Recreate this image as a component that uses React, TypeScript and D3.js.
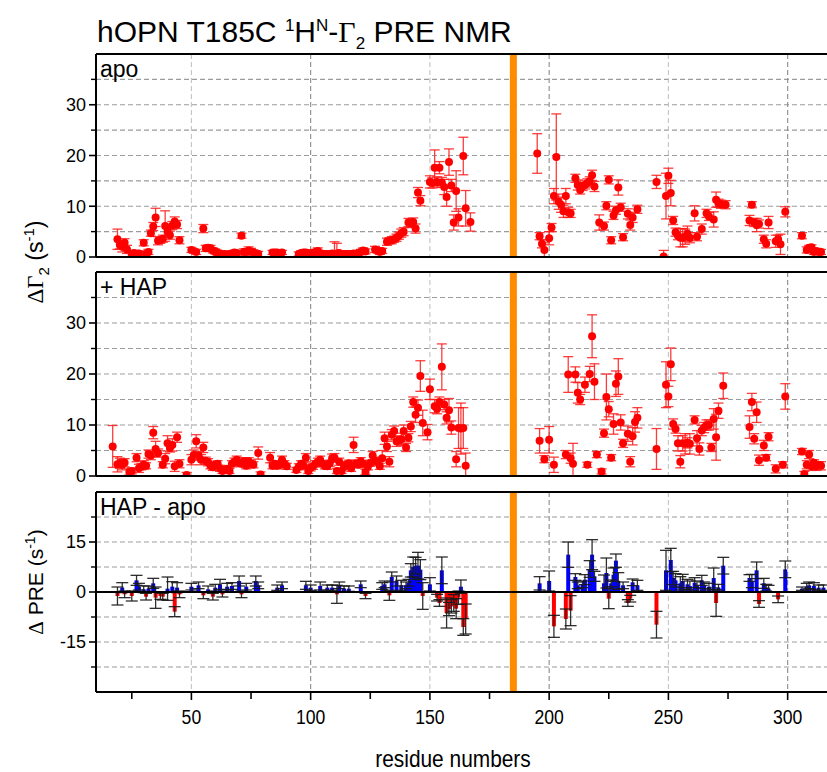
import React from 'react';
import * as d3 from 'd3';

// [residue, ΔΓ2 (s^-1), error]
const apoData: [number, number, number][] = [
  [19, 3.5, 2.0], [20, 2.4, 0.8], [21, 2.0, 1.0], [22, 2.8, 0.8], [23, 1.5, 0.8], [25, 0.6, 0.5], [26, 0.8, 0.5],
  [27, 0.6, 0.5], [28, 0.7, 0.5], [30, 2.8, 0.6], [31, 0.6, 0.5], [32, 1.0, 0.5], [33, 4.7, 0.6], [34, 6.0, 0.8],
  [35, 7.8, 1.8], [36, 3.2, 0.8], [37, 3.3, 0.6], [38, 3.6, 0.7], [39, 6.1, 3.0], [40, 5.0, 1.0], [41, 4.3, 0.8],
  [42, 6.2, 0.8], [43, 7.0, 0.9], [44, 6.4, 0.8], [45, 3.3, 0.7], [50, 1.4, 0.5], [52, 1.0, 0.5], [55, 5.6, 0.8],
  [56, 1.7, 0.6], [57, 1.8, 0.5], [58, 1.7, 0.6], [59, 1.3, 0.5], [60, 1.1, 0.5], [61, 0.8, 0.5], [62, 0.7, 0.4],
  [63, 0.5, 0.4], [64, 0.6, 0.4], [65, 0.5, 0.4], [66, 0.6, 0.4], [67, 0.7, 0.4], [68, 0.9, 0.4], [69, 0.8, 0.4],
  [71, 4.2, 0.5], [72, 1.0, 0.6], [73, 1.0, 0.6], [74, 1.3, 0.7], [75, 1.1, 0.6], [76, 0.9, 0.5], [77, 0.7, 0.5],
  [78, 0.6, 0.5], [84, 0.9, 0.4], [85, 0.9, 0.4], [86, 0.9, 0.4], [87, 0.8, 0.4], [88, 0.9, 0.4], [95, 0.6, 0.4],
  [96, 0.8, 0.4], [97, 0.9, 0.4], [98, 0.9, 0.4], [99, 0.8, 0.4], [100, 0.7, 0.4], [101, 0.8, 0.4], [102, 1.0, 0.5],
  [103, 1.2, 0.6], [104, 0.8, 0.4], [105, 0.6, 0.4], [106, 0.6, 0.4], [107, 0.6, 0.4], [108, 0.6, 0.4], [109, 0.7, 0.4],
  [110, 0.6, 2.4], [111, 0.7, 2.0], [112, 0.8, 0.4], [113, 0.6, 0.4], [114, 0.6, 0.4], [115, 0.6, 0.4], [116, 0.6, 0.4],
  [117, 0.6, 0.4], [118, 0.7, 0.4], [119, 0.6, 0.4], [120, 0.8, 0.4], [121, 1.0, 0.5], [122, 1.3, 0.5], [123, 1.1, 0.5],
  [127, 1.5, 0.6], [128, 1.3, 0.5], [129, 1.0, 0.5], [130, 1.2, 0.5], [132, 3.0, 0.7], [133, 3.2, 0.6], [134, 3.3, 0.7],
  [135, 3.5, 0.6], [136, 3.8, 0.7], [137, 4.2, 0.7], [138, 4.7, 0.8], [139, 5.0, 0.8], [141, 6.8, 0.8], [142, 6.6, 0.8],
  [143, 6.9, 0.8], [144, 5.6, 0.9], [145, 12.7, 1.0], [146, 11.1, 1.0], [150, 14.8, 1.2], [151, 14.6, 1.0],
  [152, 17.6, 3.5], [153, 14.8, 1.0], [154, 17.6, 1.2], [155, 14.7, 1.0], [156, 13.8, 1.5], [157, 11.8, 1.8],
  [158, 18.7, 2.6], [159, 14.1, 1.2], [160, 6.8, 1.5], [161, 13.0, 4.0], [162, 7.8, 1.7], [164, 19.9, 3.7],
  [165, 9.6, 3.5], [167, 6.9, 1.8],
  [195, 20.4, 3.9], [196, 4.1, 0.7], [197, 2.6, 0.8], [198, 1.4, 1.4], [200, 3.7, 1.3], [201, 5.8, 0.8],
  [202, 12.0, 1.5], [203, 19.7, 8.5], [204, 10.9, 1.5], [205, 10.3, 1.5], [206, 9.0, 1.2], [207, 12.0, 1.5],
  [208, 8.8, 1.0], [209, 8.6, 0.8], [211, 15.5, 0.8], [212, 14.2, 1.0], [213, 13.2, 0.8], [214, 13.9, 0.8],
  [215, 14.2, 0.8], [216, 14.6, 0.8], [217, 15.0, 0.8], [218, 16.1, 1.0], [219, 13.9, 1.0], [221, 6.8, 1.5],
  [223, 6.1, 0.8], [224, 10.1, 0.8], [225, 15.2, 0.8], [226, 3.3, 0.7], [227, 8.2, 0.8], [228, 9.2, 0.8],
  [229, 13.7, 1.5], [230, 9.8, 0.8], [231, 3.9, 0.7], [233, 8.5, 1.0], [234, 6.3, 1.0], [235, 7.8, 1.0],
  [237, 9.4, 0.8], [245, 14.8, 1.3], [248, 0.1, 1.2], [249, 12.0, 4.5], [250, 16.0, 1.5], [251, 12.6, 2.5],
  [252, 7.2, 0.8], [253, 4.9, 0.8], [254, 4.2, 0.8], [255, 3.8, 1.8], [256, 3.8, 1.8], [257, 4.0, 1.5],
  [258, 4.6, 1.5], [259, 3.8, 1.0], [261, 8.6, 1.5], [262, 4.0, 0.8], [264, 5.5, 1.0], [266, 8.6, 0.8],
  [267, 8.0, 0.8], [269, 7.4, 1.5], [270, 11.3, 1.5], [271, 10.6, 0.8], [272, 10.4, 0.8], [274, 10.3, 0.8],
  [284, 7.2, 1.0], [285, 10.3, 0.6], [286, 6.8, 0.8], [287, 6.3, 1.3], [288, 6.5, 0.8], [290, 3.5, 0.8],
  [291, 2.6, 0.8], [292, 6.8, 1.2], [295, 3.1, 1.2], [296, 3.5, 0.8], [297, 2.5, 2.0], [299, 8.9, 1.0],
  [306, 4.2, 0.6], [308, 1.4, 0.6], [309, 1.8, 0.5], [310, 1.9, 0.5], [311, 1.0, 0.5], [312, 1.2, 0.5],
  [313, 1.0, 0.5], [314, 1.0, 0.5],
];

const hapData: [number, number, number][] = [
  [17, 5.8, 4.1], [19, 2.3, 1.5], [20, 2.5, 1.0], [21, 2.2, 1.0], [22, 2.6, 0.8], [24, 0.8, 0.6], [25, 1.0, 0.6],
  [27, 3.6, 0.8], [28, 1.5, 0.8], [29, 1.8, 0.6], [30, 2.2, 0.8], [31, 2.0, 0.6], [32, 4.3, 0.8], [33, 4.0, 0.8],
  [34, 8.5, 1.2], [35, 5.3, 1.5], [36, 4.5, 0.8], [38, 2.2, 0.6], [39, 3.4, 1.0], [40, 6.4, 1.5], [41, 5.5, 0.8],
  [42, 6.1, 1.2], [43, 1.9, 1.0], [44, 7.6, 1.0], [45, 2.4, 0.8], [48, 0.2, 0.5], [50, 3.2, 1.0], [51, 4.1, 1.0],
  [52, 6.8, 1.3], [53, 4.0, 0.8], [54, 3.2, 1.0], [55, 5.6, 1.0], [56, 3.0, 0.7], [57, 2.7, 0.7], [58, 2.0, 0.6],
  [59, 1.7, 0.6], [60, 2.2, 0.6], [61, 2.4, 0.6], [62, 1.5, 0.6], [63, 1.0, 0.5], [64, 1.2, 0.5], [65, 1.4, 0.5],
  [66, 1.0, 0.5], [67, 2.4, 0.6], [68, 2.8, 0.7], [69, 3.2, 0.7], [70, 2.6, 0.6], [71, 2.4, 0.6], [72, 2.9, 0.7],
  [73, 2.0, 0.6], [74, 2.9, 0.7], [75, 2.5, 0.6], [76, 2.2, 0.6], [78, 4.5, 1.2], [79, 0.3, 0.5], [83, 3.6, 1.0],
  [84, 2.0, 0.6], [85, 2.4, 0.6], [86, 2.0, 0.6], [87, 2.2, 0.6], [88, 3.2, 0.7], [89, 2.4, 0.6], [90, 1.9, 0.6],
  [94, 1.2, 0.5], [95, 1.8, 0.6], [96, 2.4, 0.6], [97, 2.0, 0.6], [98, 3.6, 0.8], [99, 1.0, 0.5], [100, 1.6, 0.6],
  [101, 1.9, 0.6], [102, 2.4, 0.6], [103, 2.8, 0.7], [104, 3.2, 0.7], [105, 2.4, 0.6], [106, 2.0, 0.6],
  [107, 1.9, 0.6], [108, 2.5, 0.6], [109, 3.5, 0.8], [110, 3.6, 0.8], [111, 1.0, 0.5], [112, 2.8, 0.7],
  [113, 1.0, 0.5], [114, 1.8, 0.6], [115, 2.2, 0.6], [116, 2.5, 0.6], [117, 1.5, 0.6], [118, 6.1, 1.5],
  [119, 2.5, 0.6], [120, 2.2, 0.6], [121, 2.9, 0.7], [122, 2.4, 0.6], [123, 0.8, 0.5], [124, 1.8, 0.6],
  [125, 2.5, 0.6], [126, 4.0, 0.8], [127, 3.0, 0.7], [128, 2.8, 0.7], [129, 1.9, 0.6], [130, 3.5, 1.5],
  [131, 7.4, 1.2], [132, 5.8, 1.0], [133, 2.8, 1.0], [134, 8.1, 1.0], [135, 8.8, 1.0], [136, 6.8, 1.0],
  [137, 7.0, 0.8], [138, 7.2, 1.2], [139, 8.8, 1.2], [140, 5.6, 0.8], [141, 7.5, 0.8], [142, 9.7, 1.0],
  [143, 14.5, 1.0], [144, 12.0, 1.5], [145, 13.4, 1.5], [146, 19.6, 3.0], [147, 10.4, 2.5], [149, 8.6, 1.5],
  [150, 17.0, 2.0], [152, 13.7, 1.3], [153, 13.2, 1.0], [154, 14.5, 1.0], [155, 21.4, 4.5], [156, 14.0, 1.0],
  [157, 11.4, 1.2], [158, 12.9, 2.3], [159, 9.5, 1.3], [161, 3.3, 1.5], [162, 9.4, 4.0], [163, 9.3, 5.0],
  [164, 9.4, 4.0], [165, 2.0, 2.5],
  [196, 6.9, 2.4], [198, 3.3, 0.7], [200, 7.1, 2.6], [202, 2.2, 1.5], [207, 4.2, 0.8], [208, 19.9, 3.5],
  [209, 3.5, 1.0], [210, 2.4, 4.0], [211, 19.9, 1.5], [212, 16.3, 2.0], [213, 15.0, 1.0], [215, 17.9, 1.5],
  [216, 2.2, 0.5], [217, 20.0, 1.5], [218, 27.4, 4.2], [219, 18.5, 3.5], [220, 4.2, 0.6], [222, 0.9, 0.5],
  [223, 8.4, 0.8], [224, 15.5, 4.5], [225, 13.1, 1.5], [226, 3.6, 0.6], [227, 10.2, 2.0], [228, 18.1, 2.5],
  [229, 19.5, 3.5], [230, 10.5, 1.5], [231, 6.4, 0.8], [233, 8.3, 1.5], [234, 2.8, 1.0], [235, 7.8, 1.7],
  [236, 10.6, 2.0], [237, 11.4, 2.0], [245, 5.3, 4.0], [249, 17.9, 4.5], [250, 15.6, 2.0], [251, 21.9, 3.2],
  [252, 10.2, 1.0], [253, 9.2, 0.8], [254, 6.4, 1.5], [255, 2.8, 1.2], [256, 6.4, 1.5], [257, 6.3, 2.0],
  [258, 6.5, 1.0], [259, 6.3, 2.0], [261, 11.0, 0.8], [262, 7.4, 1.5], [263, 5.3, 1.2], [264, 8.9, 1.0],
  [265, 9.5, 1.0], [266, 10.0, 1.0], [267, 10.0, 1.0], [268, 5.6, 0.8], [269, 11.2, 2.0], [270, 7.6, 4.5],
  [271, 12.8, 1.5], [273, 17.7, 2.5], [284, 9.6, 2.2], [285, 14.5, 1.7], [286, 7.3, 1.0], [287, 12.5, 2.0],
  [288, 3.1, 1.0], [290, 6.0, 1.0], [291, 3.6, 0.6], [292, 7.7, 0.8], [295, 1.4, 0.8], [298, 2.2, 0.6],
  [299, 15.6, 2.5], [306, 4.8, 0.6], [307, 0.4, 0.5], [308, 2.2, 0.8], [309, 4.2, 0.8], [310, 1.9, 0.8],
  [311, 2.6, 0.6], [312, 1.9, 0.8], [313, 2.2, 0.6], [314, 2.0, 0.8],
];

// [residue, ΔPRE (s^-1), error]
const diffData: [number, number, number][] = [
  [19, -1.2, 2.7], [21, 1.3, 1.5], [22, -0.7, 1.0], [25, -1.2, 1.5], [27, 3.5, 1.5], [28, 1.6, 1.0], [30, 0.8, 1.0],
  [31, -1.4, 1.0], [32, 1.0, 0.8], [34, 2.6, 1.5], [35, -1.7, 3.2], [37, -1.2, 1.0], [38, -1.4, 1.0], [40, 1.0, 3.5],
  [42, 1.6, 1.5], [43, -5.9, 1.5], [44, 1.3, 1.5], [45, -0.7, 1.0], [50, 1.6, 1.0], [53, 2.0, 1.0], [55, -1.0, 1.0],
  [57, 0.8, 1.0], [59, -1.4, 1.0], [60, 1.3, 1.0], [62, 2.3, 1.5], [63, -0.7, 0.8], [65, 1.6, 1.0], [67, 1.8, 1.0],
  [70, 3.3, 1.5], [71, -0.7, 1.0], [73, 1.6, 1.0], [77, 3.3, 1.5], [78, 2.0, 1.0], [86, 1.3, 0.8], [88, 2.0, 1.0],
  [98, 2.0, 1.2], [100, 1.3, 0.8], [104, 1.8, 1.2], [107, 1.3, 0.8], [109, 1.3, 0.8], [111, -0.7, 2.7],
  [112, 2.0, 1.0], [114, 1.0, 0.8], [116, 1.0, 0.8], [121, 2.3, 1.0], [123, -1.2, 0.8], [130, 1.8, 1.0],
  [131, 2.3, 1.0], [133, -1.0, 1.5], [134, 4.5, 1.5], [136, 3.3, 1.5], [138, 2.0, 1.5], [140, 2.0, 1.0],
  [141, 2.8, 1.0], [142, 6.5, 2.0], [143, 7.5, 3.0], [144, 7.9, 2.5], [145, 7.9, 4.0], [146, 6.7, 3.0],
  [147, -1.2, 4.0], [150, 2.3, 2.0], [153, -1.7, 1.0], [154, -3.3, 1.0], [155, 6.5, 4.0], [157, -6.3, 4.5],
  [158, -5.1, 2.0], [159, -4.3, 2.0], [160, -3.3, 2.5], [161, -5.0, 3.0], [162, -1.7, 2.0], [163, 1.6, 2.0],
  [164, -10.5, 2.5], [165, -8.1, 4.5],
  [196, 2.6, 2.0], [200, 3.3, 3.0], [202, -10.3, 3.3], [207, -8.1, 3.0], [208, 11.2, 3.8], [209, -5.6, 4.5],
  [211, 4.5, 1.0], [212, 2.0, 1.0], [214, 2.3, 1.0], [215, 3.7, 1.5], [217, 6.9, 2.5], [218, 11.2, 4.5],
  [219, 4.7, 1.5], [223, 2.6, 2.5], [224, 5.7, 4.5], [225, -2.0, 3.0], [226, 2.6, 1.0], [227, 5.2, 2.0],
  [228, 9.4, 2.0], [229, 3.3, 2.5], [231, 2.0, 1.0], [233, -3.3, 1.0], [234, -2.0, 1.0], [235, 2.9, 1.0],
  [237, 2.0, 1.5], [245, -9.8, 4.0], [249, 6.5, 6.0], [251, 9.6, 3.5], [252, 4.2, 2.0], [253, 3.5, 2.0],
  [255, 2.6, 2.0], [256, 3.3, 2.0], [258, 2.3, 1.5], [259, 1.8, 1.5], [261, 2.8, 1.5], [262, 1.8, 1.5],
  [264, 3.5, 1.5], [265, 2.0, 1.0], [267, 1.6, 1.0], [269, 4.2, 3.0], [270, -3.3, 4.0], [271, 1.3, 1.0],
  [273, 7.9, 2.5], [284, 4.2, 1.0], [285, 3.3, 2.0], [287, 6.5, 2.5], [288, -3.6, 1.0], [290, 2.6, 1.5],
  [291, 1.3, 1.0], [292, 1.0, 1.0], [296, -2.2, 1.0], [299, 6.8, 2.5], [306, 1.0, 0.5], [308, 1.6, 1.0],
  [309, 2.0, 1.0], [311, 1.8, 1.0], [313, 1.3, 0.8], [315, 1.3, 0.8],
];

const xMinorTicks = [25, 75, 125, 175, 225, 275];
const xMajorTicks = [50, 100, 150, 200, 250, 300];
const gammaMajor = [0, 10, 20, 30];
const gammaMinor = [5, 15, 25, 35];
const preMajor = [-15, 0, 15];
const preMinor = [-22.5, -7.5, 7.5, 22.5];
const spinLabelResidue = 185;

const SANS = "'Liberation Sans', Arial, sans-serif";
const SERIF = "'Liberation Serif', 'Times New Roman', serif";

const X0 = 96;
const X1 = 827;
const x = d3.scaleLinear().domain([10, 316.5]).range([X0, X1]);

type Panel = {
  top: number;
  bottom: number;
  domain: [number, number];
  major: number[];
  minor: number[];
  label: string;
};

const panels: Panel[] = [
  { top: 54, bottom: 257, domain: [0, 40], major: gammaMajor, minor: gammaMinor, label: 'apo' },
  { top: 272, bottom: 476, domain: [0, 40], major: gammaMajor, minor: gammaMinor, label: '+ HAP' },
  { top: 492, bottom: 692, domain: [-30, 30], major: preMajor, minor: preMinor, label: 'HAP - apo' },
];

const GRID = '#9b9b9b';

function PanelFrame({ p, idx, children }: { p: Panel; idx: number; children?: React.ReactNode }) {
  const y = d3.scaleLinear().domain(p.domain).range([p.bottom, p.top]);
  const gridVals = [...p.major, ...p.minor].filter((v) => v > p.domain[0] && v < p.domain[1] && v !== 0);
  return (
    <g>
      <defs>
        <clipPath id={`clip${idx}`}>
          <rect x={X0} y={p.top} width={X1 - X0 + 2} height={p.bottom - p.top} />
        </clipPath>
      </defs>
      {gridVals.map((v) => (
        <line key={'h' + v} x1={X0} x2={X1 + 2} y1={y(v)} y2={y(v)} stroke={GRID} strokeWidth={1.1} strokeDasharray="5,3" />
      ))}
      {xMajorTicks.map((t) => (
        <line key={'v' + t} x1={x(t)} x2={x(t)} y1={p.top} y2={p.bottom} stroke={t % 100 === 0 ? '#8a8a8a' : '#c4c4c4'} strokeWidth={1.1} strokeDasharray="5,3" />
      ))}
      <line x1={x(spinLabelResidue)} x2={x(spinLabelResidue)} y1={p.top} y2={p.bottom} stroke="#FF8C00" strokeWidth={7} />
      <g clipPath={`url(#clip${idx})`}>{children}</g>
      <line x1={X0} x2={X1 + 5} y1={p.top} y2={p.top} stroke="#000" strokeWidth={2.2} />
      <line x1={X0} x2={X1 + 5} y1={p.bottom} y2={p.bottom} stroke="#000" strokeWidth={2.2} />
      <line x1={X0} x2={X0} y1={p.top} y2={p.bottom} stroke="#000" strokeWidth={2} />
      {p.major.map((v) => (
        <g key={'m' + v}>
          <line x1={X0 - 7} x2={X0} y1={y(v)} y2={y(v)} stroke="#000" strokeWidth={1.6} />
          <text x={X0 - 10} y={y(v)} dy="0.36em" textAnchor="end" fontFamily={SANS} fontSize={18} fill="#000">
            {v < 0 ? '-' + Math.abs(v) : v}
          </text>
        </g>
      ))}
      {p.minor.map((v) => (
        <line key={'n' + v} x1={X0 - 5} x2={X0} y1={y(v)} y2={y(v)} stroke="#000" strokeWidth={1.4} />
      ))}
      <text x={100} y={p.top + 23} fontFamily={SANS} fontSize={23} fill="#000">
        {p.label}
      </text>
    </g>
  );
}

function ScatterPanel({ p, idx, data }: { p: Panel; idx: number; data: [number, number, number][] }) {
  const y = d3.scaleLinear().domain(p.domain).range([p.bottom, p.top]);
  const cap = 5;
  return (
    <PanelFrame p={p} idx={idx}>
      <g stroke="#ff1a1a" strokeWidth={1.3} strokeOpacity={0.85}>
        {data.map(([r, v, e], i) => (
          <g key={i}>
            <line x1={x(r)} x2={x(r)} y1={y(v - e)} y2={y(v + e)} />
            <line x1={x(r) - cap} x2={x(r) + cap} y1={y(v + e)} y2={y(v + e)} />
            <line x1={x(r) - cap} x2={x(r) + cap} y1={y(v - e)} y2={y(v - e)} />
          </g>
        ))}
      </g>
      {data.map(([r, v], i) => (
        <circle key={'c' + i} cx={x(r)} cy={y(v)} r={4} fill="#ff0000" />
      ))}
    </PanelFrame>
  );
}

function BarPanel({ p, idx, data }: { p: Panel; idx: number; data: [number, number, number][] }) {
  const y = d3.scaleLinear().domain(p.domain).range([p.bottom, p.top]);
  const cap = 6;
  const bw = 4;
  return (
    <PanelFrame p={p} idx={idx}>
      {data.map(([r, v], i) => (
        <rect key={'b' + i} x={x(r) - bw / 2} width={bw} y={Math.min(y(v), y(0))} height={Math.abs(y(v) - y(0))} fill={v >= 0 ? '#0000ff' : '#ff0000'} />
      ))}
      <g stroke="#1a1a1a" strokeWidth={1.3} strokeOpacity={0.9}>
        {data.map(([r, v, e], i) => (
          <g key={i}>
            <line x1={x(r)} x2={x(r)} y1={y(v - e)} y2={y(v + e)} />
            <line x1={x(r) - cap} x2={x(r) + cap} y1={y(v + e)} y2={y(v + e)} />
            <line x1={x(r) - cap} x2={x(r) + cap} y1={y(v - e)} y2={y(v - e)} />
          </g>
        ))}
      </g>
      <line x1={X0} x2={X1 + 5} y1={y(0)} y2={y(0)} stroke="#000" strokeWidth={2.2} />
    </PanelFrame>
  );
}

export default function App() {
  const bottom = panels[2].bottom;
  return (
    <svg width={827} height={772} style={{ position: 'absolute', left: 0, top: 0, background: '#fff' }}>
      <rect x={0} y={0} width={827} height={772} fill="#fff" />
      <text x={97} y={42} fontFamily={SANS} fontSize={30} fill="#000">
        hOPN T185C <tspan fontSize={17} dy={-11}>1</tspan>
        <tspan dy={11}>H</tspan>
        <tspan fontSize={17} dy={-11}>N</tspan>
        <tspan dy={11}>-</tspan>
        <tspan fontFamily={SERIF}>Γ</tspan>
        <tspan fontSize={17} dy={7}>2</tspan>
        <tspan dy={-7}> PRE NMR</tspan>
      </text>

      <ScatterPanel p={panels[0]} idx={0} data={apoData} />
      <ScatterPanel p={panels[1]} idx={1} data={hapData} />
      <BarPanel p={panels[2]} idx={2} data={diffData} />

      {xMinorTicks.map((t) => (
        <line key={'xm' + t} x1={x(t)} x2={x(t)} y1={bottom} y2={bottom + 7} stroke="#000" strokeWidth={1.6} />
      ))}
      {xMajorTicks.map((t) => (
        <g key={'xM' + t}>
          <line x1={x(t)} x2={x(t)} y1={bottom} y2={bottom + 8} stroke="#000" strokeWidth={1.6} />
          <text transform={`translate(${x(t)},724) scale(0.84,1)`} textAnchor="middle" fontFamily={SANS} fontSize={21} fill="#000">
            {t}
          </text>
        </g>
      ))}
      <text transform="translate(453,767) scale(0.87,1)" textAnchor="middle" fontFamily={SANS} fontSize={24} fill="#000">
        residue numbers
      </text>

      <text transform="translate(43,262) rotate(-90)" textAnchor="middle" fontFamily={SANS} fontSize={23} fill="#000">
        <tspan fontFamily={SERIF}>ΔΓ</tspan>
        <tspan fontSize={15} dy={6}>2</tspan>
        <tspan dy={-6}> (s</tspan>
        <tspan fontSize={15} dy={-9}>-1</tspan>
        <tspan dy={9}>)</tspan>
      </text>
      <text transform="translate(43,582) rotate(-90)" textAnchor="middle" fontFamily={SANS} fontSize={21} fill="#000">
        <tspan fontFamily={SERIF}>Δ</tspan>
        <tspan> PRE (s</tspan>
        <tspan fontSize={14} dy={-8}>-1</tspan>
        <tspan dy={8}>)</tspan>
      </text>
    </svg>
  );
}
